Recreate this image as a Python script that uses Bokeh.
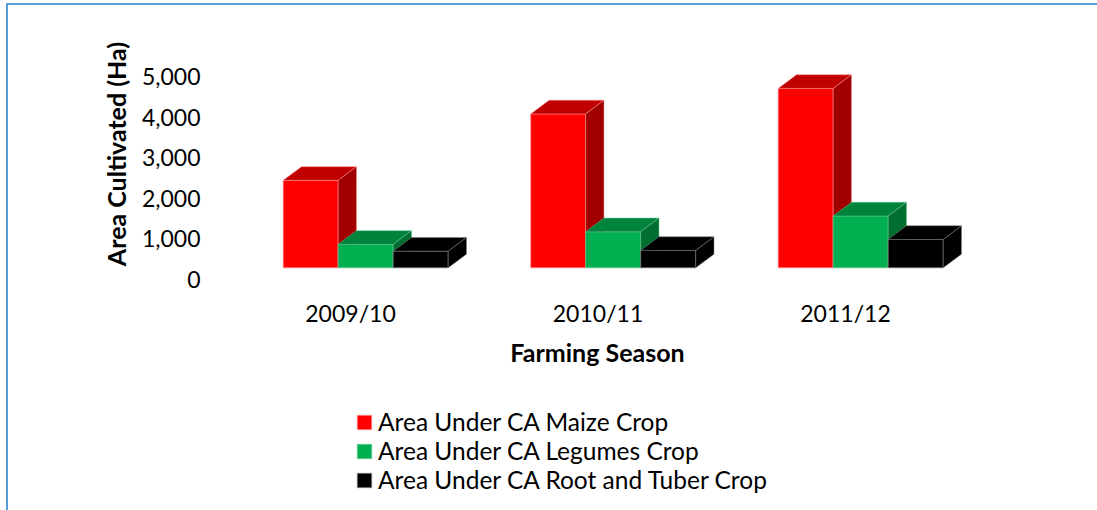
from bokeh.plotting import figure
from bokeh.layouts import column
from bokeh.models import Range1d, FixedTicker, NumeralTickFormatter, Legend, LegendItem
from bokeh.embed import file_html
from bokeh.resources import INLINE

# ---------------- data ----------------
seasons = ["2009/10", "2010/11", "2011/12"]
series_names = [
    "Area Under CA Maize Crop",
    "Area Under CA Legumes Crop",
    "Area Under CA Root and Tuber Crop",
]
maize = [2160, 3800, 4430]
legumes = [580, 890, 1280]
root_tuber = [410, 430, 700]
y_ticks = [0, 1000, 2000, 3000, 4000, 5000]

# ---------------- style ----------------
front_colors = ["#FF0000", "#00B050", "#000000"]
top_colors = ["#C00000", "#00843C", "#000000"]
side_colors = ["#A00000", "#006E30", "#000000"]
edge_colors = ["#FF9090", "#60C890", "#808080"]
FONT = "Lato"

# layout constants (canvas pixels)
W, H_TOTAL = 1089, 505
H_MAIN = 372
FL, FR, FT, FB = 202, 976, 15, 282
CAT0_PX = 342.0
PX_PER_CAT = 247.5
Y0_PX = 273.7
PX_PER_UNIT = 0.0405
BAR_PX = 55.0
DEPTH_DX_PX, DEPTH_DY_PX = 18.3, 13.7
Z0 = 0.83  # bars sit behind the axis plane
LEGEND_LOC = (145, 16)

x_range = Range1d((FL - CAT0_PX) / PX_PER_CAT, (FR - CAT0_PX) / PX_PER_CAT)
y_range = Range1d((Y0_PX - FB) / PX_PER_UNIT, (Y0_PX - FT) / PX_PER_UNIT)

p = figure(width=W, height=H_MAIN, x_range=x_range, y_range=y_range,
           output_backend="svg", toolbar_location=None,
           min_border_left=FL, min_border_right=W - FR,
           min_border_top=FT, min_border_bottom=H_MAIN - FB)
p.outline_line_color = None
p.xgrid.visible = False
p.ygrid.visible = False
p.background_fill_color = "white"
p.border_fill_color = "white"

bw = BAR_PX / PX_PER_CAT
ddx = DEPTH_DX_PX / PX_PER_CAT
ddy = DEPTH_DY_PX / PX_PER_UNIT
floor = Z0 * ddy

series = [maize, legumes, root_tuber]
for j, vals in enumerate(series):
    lefts, rights, bottoms, tops = [], [], [], []
    top_xs, top_ys, side_xs, side_ys = [], [], [], []
    for i, v in enumerate(vals):
        xl = i - 1.5 * bw + j * bw + Z0 * ddx
        xr = xl + bw
        yt = floor + v
        lefts.append(xl); rights.append(xr); bottoms.append(floor); tops.append(yt)
        top_xs.append([xl, xl + ddx, xr + ddx, xr])
        top_ys.append([yt, yt + ddy, yt + ddy, yt])
        side_xs.append([xr, xr, xr + ddx, xr + ddx])
        side_ys.append([floor, yt, yt + ddy, floor + ddy])
    p.quad(left=lefts, right=rights, bottom=bottoms, top=tops,
           fill_color=front_colors[j], line_color=edge_colors[j], line_width=1, line_alpha=0.7)
    p.patches(top_xs, top_ys, fill_color=top_colors[j], line_color=edge_colors[j], line_width=1, line_alpha=0.5)
    p.patches(side_xs, side_ys, fill_color=side_colors[j], line_color=edge_colors[j], line_width=1, line_alpha=0.5)

# axes
for ax in (p.xaxis[0], p.yaxis[0]):
    ax.axis_line_color = None
    ax.major_tick_line_color = None
    ax.minor_tick_line_color = None
    ax.major_tick_out = 0
    ax.major_tick_in = 0
    ax.minor_tick_out = 0
    ax.minor_tick_in = 0
    ax.major_label_text_font = FONT
    ax.major_label_text_font_size = "23px"
    ax.major_label_text_color = "black"
    ax.axis_label_text_font = FONT
    ax.axis_label_text_font_size = "25px"
    ax.axis_label_text_font_style = "bold"
    ax.axis_label_text_color = "black"

p.yaxis.ticker = FixedTicker(ticks=y_ticks)
p.yaxis.formatter = NumeralTickFormatter(format="0,0")
p.yaxis.axis_label = "Area Cultivated (Ha)"
p.yaxis.major_label_standoff = 10
p.yaxis.axis_label_standoff = 8

p.xaxis.ticker = FixedTicker(ticks=list(range(len(seasons))))
p.xaxis.major_label_overrides = {i: s for i, s in enumerate(seasons)}
p.xaxis.axis_label = "Farming Season"
p.xaxis.major_label_standoff = 11
p.xaxis.axis_label_standoff = 7

# legend strip below the chart (swatch renderers are hidden; only the legend shows them)
p2 = figure(width=W, height=H_TOTAL - H_MAIN, x_range=Range1d(0, 1), y_range=Range1d(0, 1),
            output_backend="svg", toolbar_location=None, x_axis_type=None, y_axis_type=None,
            min_border=0)
p2.outline_line_color = None
p2.xgrid.visible = False
p2.ygrid.visible = False
swatches = []
for j in range(3):
    r = p2.quad(left=[0], right=[1], bottom=[0], top=[1],
                fill_color=front_colors[j], line_color=edge_colors[j], line_alpha=0.7)
    r.visible = False
    swatches.append(r)
legend = Legend(
    items=[LegendItem(label=series_names[j], renderers=[swatches[j]]) for j in range(3)],
    location=LEGEND_LOC, orientation="vertical",
    border_line_color=None, background_fill_alpha=0,
    inactive_fill_alpha=0,
    label_text_font=FONT, label_text_font_size="24.5px", label_text_color="black",
    glyph_width=18, glyph_height=18, label_standoff=5, spacing=0,
    padding=2, margin=0,
)
p2.add_layout(legend, "center")

layout = column(p, p2, spacing=0)
layout.styles = {"border-top": "2px solid #5B9BD5", "border-left": "2px solid #5B9BD5",
                 "margin-top": "3px", "margin-left": "6px"}

open("out.html", "w").write(file_html(layout, INLINE))
